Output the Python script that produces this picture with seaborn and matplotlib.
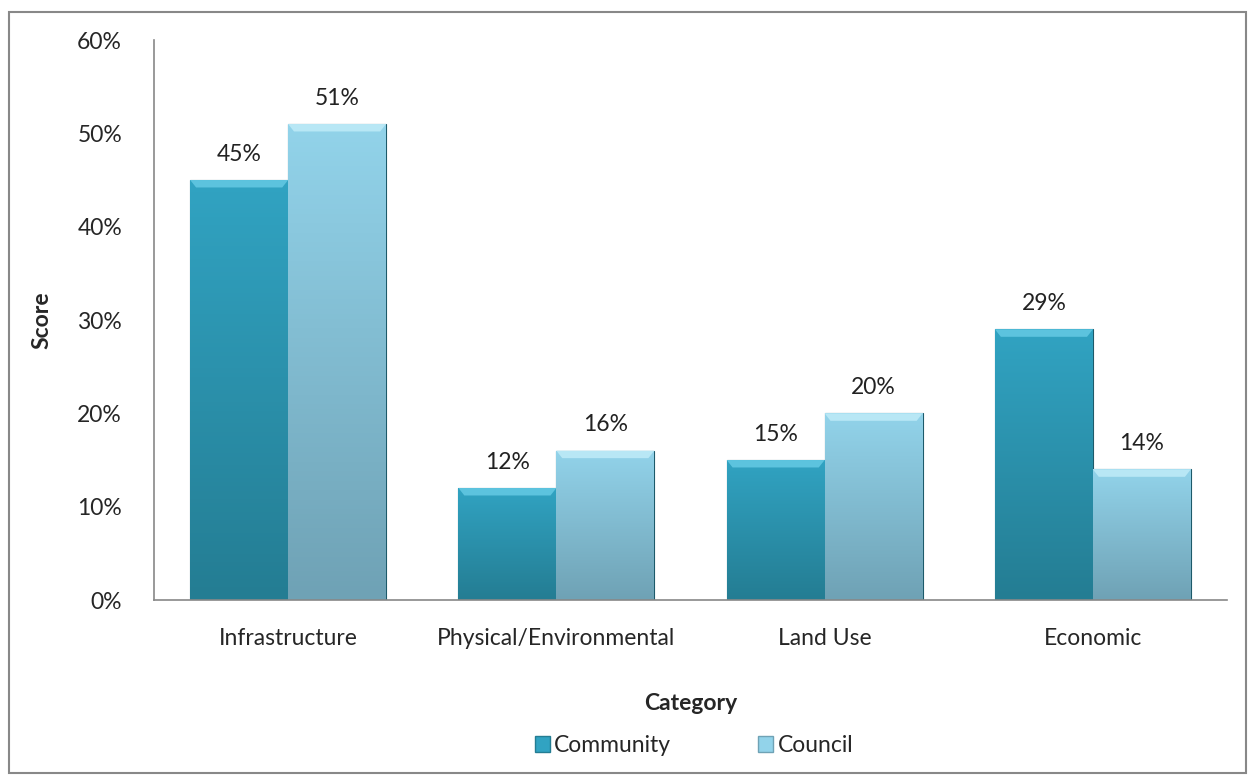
import numpy as np
import pandas as pd
import seaborn as sns
import matplotlib.pyplot as plt
from matplotlib.colors import LinearSegmentedColormap
from matplotlib.patches import Rectangle, Polygon

categories = ["Infrastructure", "Physical/Environmental", "Land Use", "Economic"]
community = [45, 12, 15, 29]
council = [51, 16, 20, 14]
series = ["Community", "Council"]

df = pd.DataFrame({
    "Category": categories * 2,
    "Group": [series[0]] * 4 + [series[1]] * 4,
    "Score": community + council,
})

sns.set_theme(style="white")
plt.rcParams['font.family'] = ['Lato', 'DejaVu Sans']

fig = plt.figure(figsize=(12.55, 7.83), dpi=100)
ax = fig.add_axes([0.1227, 0.2337, 0.855, 0.7152])

top_cols = {"Community": "#31a3c2", "Council": "#92d3ea"}
bot_cols = {"Community": "#247d93", "Council": "#6fa2b5"}
bevel_cols = {"Community": "#5cc3de", "Council": "#b8e7f5"}
fs = 16.5

sns.barplot(data=df, x="Category", y="Score", hue="Group", order=categories,
            hue_order=series, palette=top_cols, width=0.73, ax=ax, legend=False,
            edgecolor="#1d5a6a", linewidth=0.8)

# gradient fill and a bevelled top on each bar
for cont, name in zip(ax.containers, series):
    cmap = LinearSegmentedColormap.from_list(name, [bot_cols[name], top_cols[name]])
    for bar in cont:
        x0, y0 = bar.get_x(), bar.get_y()
        w, h = bar.get_width(), bar.get_height()
        grad = np.linspace(0, 1, 100).reshape(-1, 1)
        im = ax.imshow(grad, extent=[x0, x0 + w, y0, y0 + h], origin="lower",
                       cmap=cmap, aspect="auto", zorder=bar.get_zorder())
        im.set_clip_path(bar)
        b = 0.8
        dx = w * 0.06
        ax.add_patch(Polygon([(x0, y0 + h), (x0 + w, y0 + h), (x0 + w - dx, y0 + h - b),
                              (x0 + dx, y0 + h - b)], closed=True,
                             facecolor=bevel_cols[name], edgecolor="none",
                             zorder=bar.get_zorder() + 0.1))
    ax.bar_label(cont, labels=[f"{v:.0f}%" for v in cont.datavalues], padding=11,
                 fontsize=fs, color="#222222")

ax.set_xlim(-0.5, 3.5)
ax.set_ylim(0, 60)
ax.set_yticks(range(0, 61, 10))
ax.set_yticklabels([f"{t}%" for t in range(0, 61, 10)], fontsize=fs)
ax.tick_params(axis="x", labelsize=fs, pad=14)
ax.tick_params(axis="y", pad=17)
ax.set_xlabel("Category", fontsize=fs, fontweight="bold", labelpad=32)
ax.set_ylabel("Score", fontsize=fs, fontweight="bold", labelpad=18)

for s in ["top", "right"]:
    ax.spines[s].set_visible(False)
for s in ["left", "bottom"]:
    ax.spines[s].set_color("#888888")
    ax.spines[s].set_linewidth(1.2)

handles = [Rectangle((0, 0), 1, 1, facecolor=top_cols[n], edgecolor=bot_cols[n]) for n in series]
fig.legend(handles, series, loc="center", bbox_to_anchor=(0.553, 0.048), ncol=2,
           frameon=False, fontsize=fs, handlelength=0.65, handleheight=0.65,
           handletextpad=0.2, columnspacing=3.8)

fig.add_artist(Rectangle((0.007, 0.013), 0.986, 0.972, transform=fig.transFigure,
                         fill=False, edgecolor="#888888", linewidth=1.5))

fig.savefig("out.png", dpi=100)
